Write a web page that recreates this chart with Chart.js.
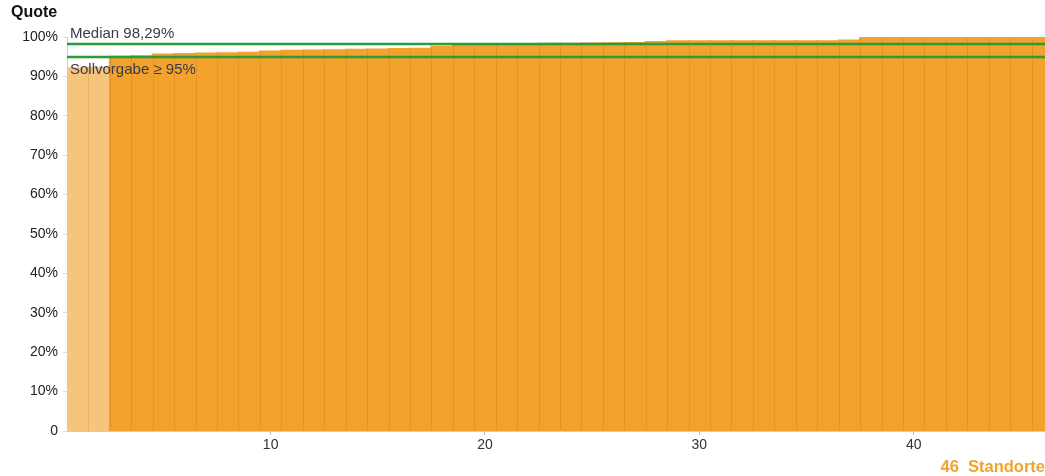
<!DOCTYPE html>
<html lang="de">
<head>
  <meta charset="utf-8">
  <title>Quote je Standort</title>
  <style>
    * { box-sizing:border-box; margin:0; padding:0 }
    body {
      width:1045px; height:476px; overflow:hidden;
      background:#fff; font-family:'Liberation Sans', Arial, sans-serif;
      position:relative;
    }
    #wrap { position:absolute; left:0; top:0; width:1053px; height:476px; }
    .quote-title {
      position:absolute; left:11px; top:3px;
      font-weight:bold; font-size:16px; color:#111;
    }
    .standorte {
      position:absolute; right:0; top:457px;
      font-weight:bold; font-size:16.5px; color:#f2a22d;
      white-space:pre;
    }
  </style>
</head>
<body>
  <div id="wrap"><canvas id="chart" width="1053" height="476"></canvas></div>
  <div class="quote-title">Quote</div>
  <div class="standorte">46  Standorte</div>

  <script src="https://cdn.jsdelivr.net/npm/chart.js@4.4.1/dist/chart.umd.min.js"></script>
  <script>
  // Standorte, aufsteigend nach Quote sortiert
  const standorte = [1,2,3,4,5,6,7,8,9,10,11,12,13,14,15,16,17,18,19,20,21,22,23,
                     24,25,26,27,28,29,30,31,32,33,34,35,36,37,38,39,40,41,42,43,44,45,46];
  const quote = [92.1, 92.2, 95.0, 95.1, 95.55, 95.7, 95.8, 95.85, 96.0, 96.3,
                 96.5, 96.6, 96.65, 96.75, 96.8, 96.95, 97.0, 97.5, 98.1, 98.15,
                 98.2, 98.25, 98.27, 98.31, 98.35, 98.4, 98.45, 98.7, 98.9, 98.9,
                 98.9, 98.95, 98.95, 98.95, 98.95, 98.95, 99.1, 100, 100, 100,
                 100, 100, 100, 100, 100, 100];
  const xTicks = [10, 20, 30, 40];
  const yTicks = [0, 10, 20, 30, 40, 50, 60, 70, 80, 90, 100];
  const median = 98.29;
  const sollvorgabe = 95;

  const ORANGE = '#f2a22d';
  const ORANGE_LIGHT = '#f6c47c';
  const GREEN = '#2a9d38';
  const FONT = '"Liberation Sans", Arial, sans-serif';

  // feine dunklere Trennlinien zwischen den Balken
  const separators = {
    id: 'separators',
    afterDatasetsDraw(chart) {
      const { ctx } = chart;
      const bars = chart.getDatasetMeta(0).data;
      ctx.save();
      ctx.lineWidth = 1;
      bars.forEach((b, i) => {
        if (i === 0) return;
        const px = Math.round(b.x - b.width / 2) + 0.5;
        const top = Math.min(b.y, bars[i - 1].y);
        ctx.strokeStyle = quote[i] < sollvorgabe ? 'rgba(215,140,40,0.3)' : 'rgba(205,120,20,0.35)';
        ctx.beginPath();
        ctx.moveTo(px, top + 1);
        ctx.lineTo(px, b.base);
        ctx.stroke();
      });
      ctx.restore();
    }
  };

  const refLines = {
    id: 'refLines',
    afterDatasetsDraw(chart) {
      const { ctx, chartArea, scales: { y } } = chart;
      const lines = [
        { v: median, text: 'Median 98,29%', dy: -6.5 },
        { v: sollvorgabe, text: 'Sollvorgabe \u2265 95%', dy: 16.5 }
      ];
      ctx.save();
      lines.forEach(l => {
        const py = Math.round(y.getPixelForValue(l.v));
        ctx.strokeStyle = GREEN;
        ctx.lineWidth = 2.5;
        ctx.beginPath();
        ctx.moveTo(chartArea.left, py);
        ctx.lineTo(chartArea.right, py);
        ctx.stroke();
        ctx.fillStyle = '#3a3a48';
        ctx.font = '15px ' + FONT;
        ctx.textBaseline = 'alphabetic';
        ctx.textAlign = 'left';
        ctx.fillText(l.text, chartArea.left + 3, py + l.dy);
      });
      ctx.restore();
    }
  };

  new Chart(document.getElementById('chart'), {
    type: 'bar',
    data: {
      labels: standorte,
      datasets: [{
        data: quote,
        backgroundColor: c => quote[c.dataIndex] < sollvorgabe ? ORANGE_LIGHT : ORANGE,
        borderWidth: 0,
        inflateAmount: 1,
        categoryPercentage: 1,
        barPercentage: 1
      }]
    },
    options: {
      responsive: false,
      animation: false,
      layout: { padding: { top: 37, left: 0, right: 0, bottom: 0 } },
      plugins: { legend: { display: false }, tooltip: { enabled: false } },
      scales: {
        x: {
          grid: {
            display: true, drawOnChartArea: false, offset: false, tickLength: 4,
            color: c => xTicks.includes(standorte[c.index]) ? '#bbb' : 'rgba(0,0,0,0)'
          },
          border: { display: true, color: '#ccc' },
          ticks: {
            autoSkip: false, maxRotation: 0, padding: 2,
            color: '#333', font: { size: 14, family: FONT },
            callback: (v, i) => xTicks.includes(standorte[i]) ? String(standorte[i]) : ''
          },
          afterFit: s => { s.height = 45; }
        },
        y: {
          min: 0, max: 100,
          afterBuildTicks: s => { s.ticks = yTicks.map(v => ({ value: v })); },
          grid: { display: true, drawOnChartArea: false, tickLength: 4, color: '#ddd' },
          border: { display: true, color: '#ccc' },
          ticks: {
            padding: 5, color: '#222',
            font: { size: 14, family: FONT },
            callback: v => v === 0 ? '0' : v + '%'
          },
          afterFit: s => { s.width = 67; }
        }
      }
    },
    plugins: [separators, refLines]
  });
  </script>
</body>
</html>
